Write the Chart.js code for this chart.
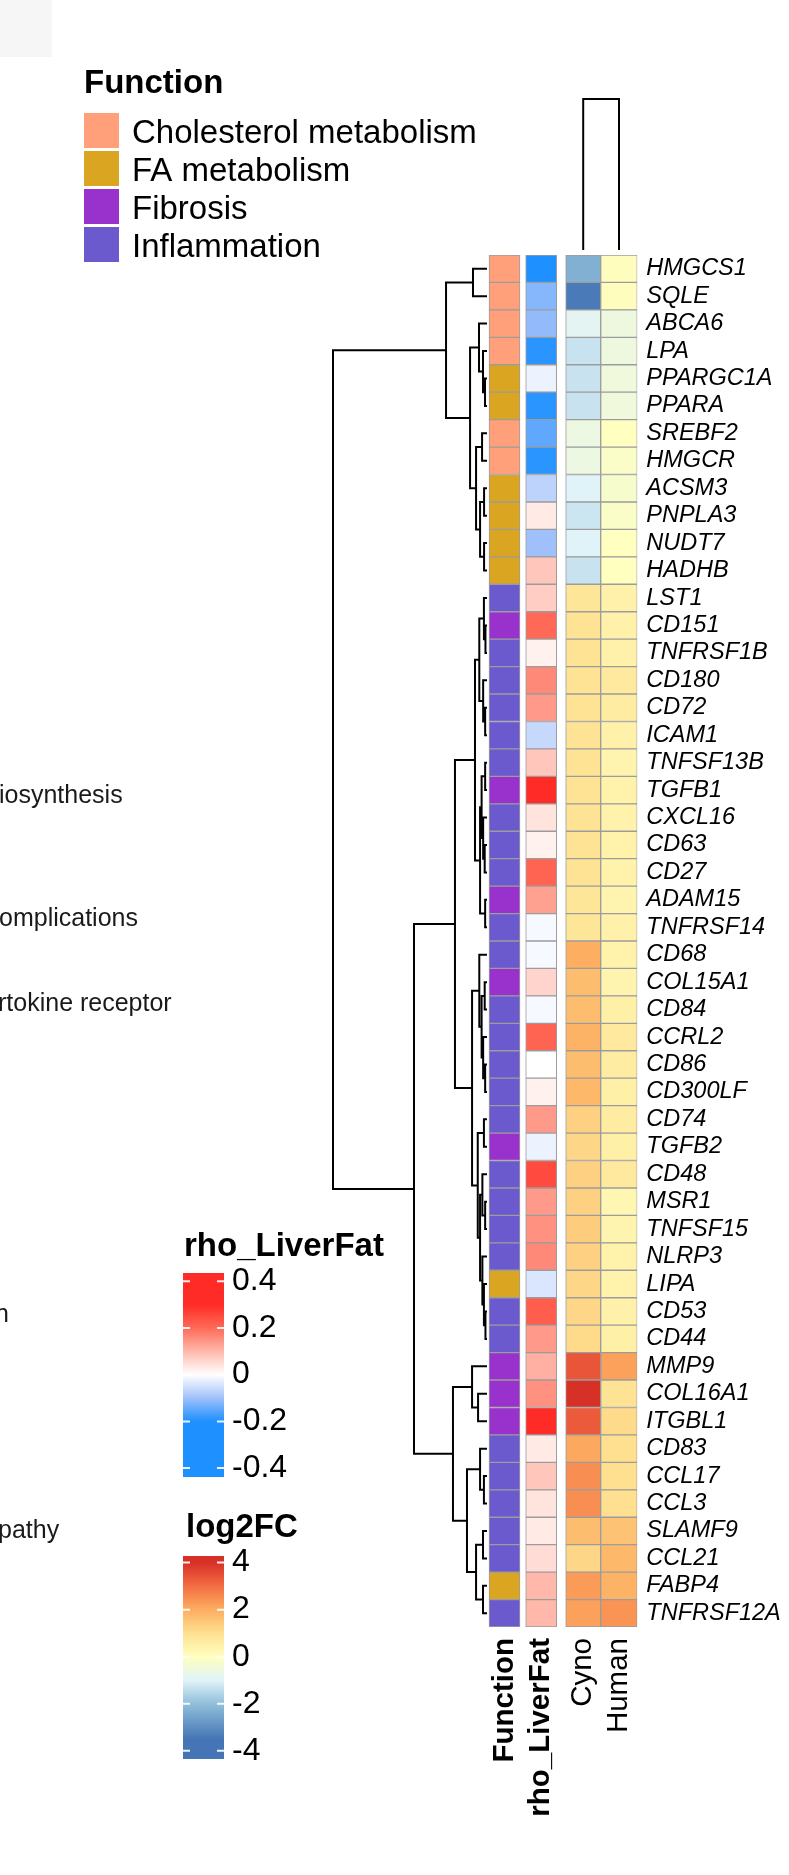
<!DOCTYPE html>
<html>
<head>
<meta charset="utf-8">
<script src="https://cdn.jsdelivr.net/npm/chart.js@4.4.1/dist/chart.umd.min.js"></script>
<style>
  html, body { margin: 0; padding: 0; background: #fff; }
  #wrap { position: relative; width: 789px; height: 1875px; }
</style>
</head>
<body>
<div id="wrap"><canvas id="heat"></canvas></div>
<script>
// ---- data ----
const genes = ['HMGCS1','SQLE','ABCA6','LPA','PPARGC1A','PPARA','SREBF2','HMGCR','ACSM3','PNPLA3','NUDT7','HADHB',
  'LST1','CD151','TNFRSF1B','CD180','CD72','ICAM1','TNFSF13B','TGFB1','CXCL16','CD63','CD27','ADAM15','TNFRSF14',
  'CD68','COL15A1','CD84','CCRL2','CD86','CD300LF','CD74','TGFB2','CD48','MSR1','TNFSF15','NLRP3',
  'LIPA','CD53','CD44','MMP9','COL16A1','ITGBL1','CD83','CCL17','CCL3','SLAMF9','CCL21','FABP4','TNFRSF12A'];

const functions = ['Cholesterol metabolism', 'FA metabolism', 'Fibrosis', 'Inflammation'];
// index into functions, one per gene
const geneFunction = [0,0,0,0,1,1,0,0,1,1,1,1,
  3,2,3,3,3,3,3,2,3,3,3,2,3,
  3,2,3,3,3,3,3,2,3,3,3,3,
  1,3,3,2,2,2,3,3,3,3,3,1,3];

const rho = [-0.25,-0.12,-0.11,-0.19,-0.02,-0.19,-0.15,-0.19,-0.07,0.03,-0.10,0.08,
  0.07,0.20,0.02,0.16,0.14,-0.06,0.08,0.30,0.04,0.02,0.21,0.13,-0.01,
  -0.01,0.06,-0.01,0.21,0.00,0.02,0.14,-0.02,0.25,0.14,0.15,0.16,
  -0.04,0.22,0.14,0.11,0.15,0.30,0.03,0.08,0.04,0.03,0.05,0.10,0.10];

const cyno = [-2.3,-3.4,-0.9,-1.3,-1.3,-1.3,-0.6,-0.6,-1.0,-1.25,-1.0,-1.3,
  0.8,0.9,0.9,0.9,0.9,0.9,0.9,0.9,0.9,0.9,0.9,0.8,0.8,
  2.0,1.7,1.7,1.9,1.7,1.8,1.3,1.2,1.3,1.3,1.4,1.3,
  1.2,1.2,1.1,3.4,4.0,3.3,2.1,2.5,2.5,1.7,1.2,2.3,2.2];

const human = [0.05,0.05,-0.55,-0.55,-0.5,-0.5,0.0,-0.15,-0.25,-0.15,0.0,0.0,
  0.45,0.45,0.45,0.7,0.6,0.45,0.35,0.4,0.4,0.4,0.4,0.35,0.45,
  0.4,0.35,0.5,0.7,0.6,0.5,0.6,0.5,0.7,0.3,0.35,0.4,
  0.4,0.45,0.5,2.2,0.9,1.1,1.0,1.0,1.0,1.6,1.8,1.9,2.4];

const heatColumns = ['Function', 'rho_LiverFat', 'Cyno', 'Human'];
const rhoTicks = [0.4, 0.2, 0, -0.2, -0.4];
const fcTicks = [4, 2, 0, -2, -4];

// row dendrogram: [height, left, right], leaves are row indices
const rowTree =
  [1.0,
    [0.266,
      [0.091, 0, 1],
      [0.110,
        [0.052, 2, [0.026, 3, [0.013, 4, 5]]],
        [0.071, [0.032, 6, 7], [0.045, [0.019, 8, 9], [0.019, 10, 11]]]]],
    [0.474,
      [0.208,
        [0.078,
          [0.05, [0.02, 12, [0.01, 13, 14]], [0.025, 15, [0.012, 16, 17]]],
          [0.045, [0.035, [0.012, 18, 19], [0.025, 20, [0.015, 21, 22]]], [0.012, 23, 24]]],
        [0.097,
          [0.05, 25, [0.035, [0.015, 26, 27], [0.025, 28, [0.012, 29, 30]]]],
          [0.06, [0.02, 31, 32], [0.045, [0.03, 33, [0.012, 34, 35]], [0.03, 36, [0.02, 37, [0.01, 38, 39]]]]]]],
      [0.221,
        [0.097, 40, [0.058, 41, 42]],
        [0.13, [0.045, 43, [0.02, 44, 45]], [0.071, [0.026, 46, 47], [0.026, 48, 49]]]]]];

// column dendrogram: Cyno + Human merged at height 1
const colMerge = [2, 3, 1.0];

// cut-off text from the neighbouring panel
const sideNotes = ['iosynthesis', 'omplications', 'rtokine receptor', 'n', 'pathy'];

// ---- styles / layout ----
const FONT = '"Liberation Sans", Arial, Helvetica, sans-serif';
const functionColors = ['#FFA07A', '#DAA520', '#9932CC', '#6A5ACD'];
const rhoStops = [[-0.2,'#1E90FF'], [-0.1,'#A0C0FB'], [0,'#FFFFFF'], [0.1,'#FFB8AA'], [0.2,'#FF6A58'], [0.3,'#FF2B26']];
const fcStops = [[-3.5,'#4575B4'], [-2,'#91BFDB'], [-1,'#E0F3F8'], [0,'#FFFFBF'], [1,'#FEE090'], [2,'#FDAE61'], [3,'#F46D43'], [4,'#D73027']];

const W = 789, H = 1875;
const AREA = { left: 333, top: 255, right: 637.3, bottom: 1627 };
const colLeft = [156, 192.7, 232.7, 267.7];   // offsets from AREA.left
const colWidth = [31, 31, 35, 36.6];
const LEAF_X = 487;                            // row dendrogram leaf end
const COL_TREE = { base: 250, unit: 151 };     // column dendrogram leaf y, px per height unit
const sideNoteSpots = [[-1, 803], [-1, 926], [-2, 1011], [-5, 1322], [-2, 1538]];

function hexRgb(h) {
  const n = parseInt(h.slice(1), 16);
  return [n >> 16 & 255, n >> 8 & 255, n & 255];
}
function rampColor(stops, v) {
  if (v <= stops[0][0]) return stops[0][1];
  for (let i = 1; i < stops.length; i++) {
    if (v <= stops[i][0]) {
      const [v0, c0] = stops[i - 1], [v1, c1] = stops[i];
      const t = (v - v0) / (v1 - v0), a = hexRgb(c0), b = hexRgb(c1);
      return 'rgb(' + a.map((x, k) => Math.round(x + (b[k] - x) * t)).join(',') + ')';
    }
  }
  return stops[stops.length - 1][1];
}

// dendrogram polylines, null point breaks the line
function treeLines(node, out) {
  if (typeof node === 'number') return { y: node, h: 0 };
  const a = treeLines(node[1], out), b = treeLines(node[2], out);
  out.push({x: a.h, y: a.y}, {x: node[0], y: a.y}, {x: node[0], y: b.y}, {x: b.h, y: b.y}, {x: null, y: null});
  return { y: (a.y + b.y) / 2, h: node[0] };
}
const rowLines = [];
treeLines(rowTree, rowLines);

const colCenter = c => colLeft[c] + colWidth[c] / 2;
const colLines = [
  {x: colCenter(colMerge[0]), y: 0}, {x: colCenter(colMerge[0]), y: colMerge[2]},
  {x: colCenter(colMerge[1]), y: colMerge[2]}, {x: colCenter(colMerge[1]), y: 0}
];

const cellColors = [
  geneFunction.map(f => functionColors[f]),
  rho.map(v => rampColor(rhoStops, v)),
  cyno.map(v => rampColor(fcStops, v)),
  human.map(v => rampColor(fcStops, v))
];

const barSets = heatColumns.map((name, c) => ({
  type: 'bar',
  label: name,
  data: genes.map(() => [colLeft[c], colLeft[c] + colWidth[c]]),
  backgroundColor: cellColors[c],
  borderColor: '#9c9c9c',
  borderWidth: 1,
  borderSkipped: false,
  barPercentage: 1,
  categoryPercentage: 1,
  grouped: false,
  xAxisID: 'xh',
  yAxisID: 'y'
}));

const lineStyle = { type: 'line', borderColor: '#000', borderWidth: 2, pointRadius: 0, spanGaps: false, clip: false, tension: 0 };

const rootH = rowTree[0];
const pxPerH = (LEAF_X - AREA.left) / rootH;
const colRange = (AREA.bottom - AREA.top) / COL_TREE.unit;
const colMin = -(AREA.bottom - COL_TREE.base) / COL_TREE.unit;

// ---- legends and side text ----
function drawColorBar(ctx, bar) {
  const { x, w, top, bottom, vmax, vmin, stops, ticks, title, tx, ty } = bar;
  const toY = v => top + (vmax - v) / (vmax - vmin) * (bottom - top);
  ctx.fillStyle = '#000';
  ctx.font = 'bold 33px ' + FONT;
  ctx.textBaseline = 'alphabetic';
  ctx.fillText(title, tx, ty);
  const g = ctx.createLinearGradient(0, top, 0, bottom);
  for (let k = 0; k <= 80; k++) g.addColorStop(k / 80, rampColor(stops, vmax - k / 80 * (vmax - vmin)));
  ctx.fillStyle = g;
  ctx.fillRect(x, top, w, bottom - top);
  ctx.strokeStyle = 'rgba(255,255,255,0.9)';
  ctx.lineWidth = 2;
  ctx.font = '32px ' + FONT;
  ctx.textBaseline = 'middle';
  ticks.forEach(t => {
    const y = toY(t);
    ctx.beginPath();
    ctx.moveTo(x, y); ctx.lineTo(x + 7, y);
    ctx.moveTo(x + w - 7, y); ctx.lineTo(x + w, y);
    ctx.stroke();
    ctx.fillStyle = '#000';
    ctx.fillText(String(t), 232, y);
  });
}

const extras = {
  id: 'extras',
  beforeDraw(chart) {
    const ctx = chart.ctx;
    ctx.save();
    ctx.fillStyle = '#f6f6f6';
    ctx.fillRect(0, 0, 52, 57);
    ctx.restore();
  },
  afterDraw(chart) {
    const ctx = chart.ctx;
    ctx.save();
    // Function legend
    ctx.fillStyle = '#000';
    ctx.font = 'bold 33px ' + FONT;
    ctx.textBaseline = 'alphabetic';
    ctx.fillText('Function', 84, 93);
    ctx.font = '33px ' + FONT;
    functions.forEach((f, i) => {
      const top = 113 + 38 * i;
      ctx.fillStyle = functionColors[i];
      ctx.fillRect(84, top, 35, 35);
      ctx.fillStyle = '#000';
      ctx.fillText(f, 132, top + 30);
    });
    drawColorBar(ctx, { x: 183, w: 41, top: 1273, bottom: 1477, vmax: 0.435, vmin: -0.438,
      stops: rhoStops, ticks: rhoTicks, title: 'rho_LiverFat', tx: 184, ty: 1256 });
    drawColorBar(ctx, { x: 183, w: 41, top: 1556, bottom: 1759, vmax: 4.28, vmin: -4.35,
      stops: fcStops, ticks: fcTicks, title: 'log2FC', tx: 186, ty: 1537 });
    // clipped labels of the panel on the left
    ctx.fillStyle = '#1a1a1a';
    ctx.font = '25px ' + FONT;
    ctx.textBaseline = 'alphabetic';
    sideNotes.forEach((s, i) => ctx.fillText(s, sideNoteSpots[i][0], sideNoteSpots[i][1]));
    ctx.restore();
  }
};

Chart.defaults.font.family = FONT;
Chart.defaults.color = '#000';

new Chart(document.getElementById('heat'), {
  type: 'bar',
  data: {
    labels: genes,
    datasets: [
      ...barSets,
      { ...lineStyle, label: 'rows', data: rowLines, xAxisID: 'xd', yAxisID: 'yd' },
      { ...lineStyle, label: 'cols', data: colLines, xAxisID: 'xh', yAxisID: 'ycol' }
    ]
  },
  options: {
    indexAxis: 'y',
    responsive: true,
    maintainAspectRatio: false,
    devicePixelRatio: 1,
    animation: false,
    events: [],
    layout: { padding: { left: AREA.left, top: AREA.top, right: 0, bottom: 0 } },
    plugins: { legend: { display: false }, tooltip: { enabled: false } },
    scales: {
      y: {
        type: 'category', axis: 'y', position: 'right', offset: true,
        grid: { display: false, drawTicks: false }, border: { display: false },
        ticks: { autoSkip: false, padding: 9, color: '#000',
          font: { family: FONT, size: 23.5, style: 'italic' } },
        afterFit: s => { s.width = W - AREA.right; }
      },
      xh: {
        type: 'linear', axis: 'x', position: 'bottom', bounds: 'data', offset: false,
        min: 0, max: AREA.right - AREA.left,
        grid: { display: false, drawTicks: false }, border: { display: false },
        afterBuildTicks: s => { s.ticks = heatColumns.map((_, c) => ({ value: colCenter(c) })); },
        ticks: {
          autoSkip: false, minRotation: 90, maxRotation: 90, padding: 11, color: '#000',
          callback: (v, i) => heatColumns[i],
          font: c => ({ family: FONT, size: 29.5, weight: c.index < 2 ? 'bold' : 'normal' })
        },
        afterFit: s => { s.height = H - AREA.bottom; }
      },
      xd: {
        type: 'linear', axis: 'x', display: false, reverse: true, bounds: 'data', offset: false,
        min: -(AREA.right - LEAF_X) / pxPerH, max: rootH
      },
      yd: {
        type: 'linear', axis: 'y', display: false, reverse: true, bounds: 'data', offset: false,
        min: -0.5, max: genes.length - 0.5
      },
      ycol: {
        type: 'linear', axis: 'y', display: false, bounds: 'data', offset: false,
        min: colMin, max: colMin + colRange
      }
    }
  },
  plugins: [extras]
});
</script>
</body>
</html>
